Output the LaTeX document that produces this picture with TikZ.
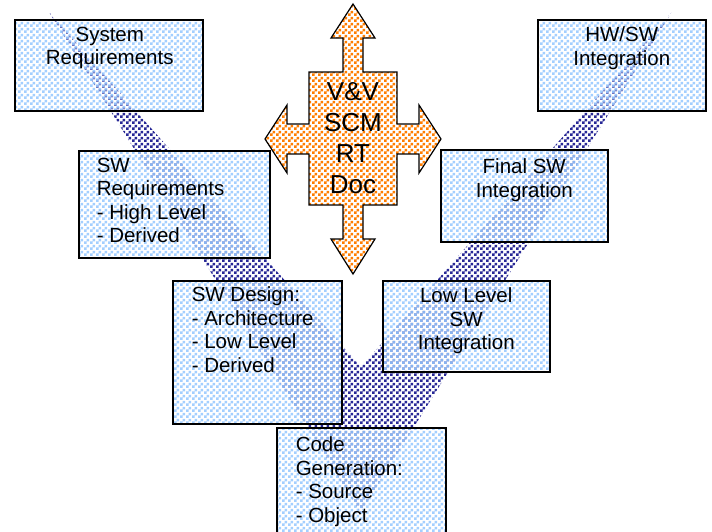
\documentclass[tikz,border=0pt]{standalone}
\usepackage{fontspec}
\setmainfont{Liberation Sans}
\usetikzlibrary{patterns}

% small square checks, 3pt each
\pgfdeclarepatternformonly{checks}{\pgfpointorigin}{\pgfqpoint{6pt}{6pt}}{\pgfqpoint{6pt}{6pt}}{%
  \pgfpathrectangle{\pgfpointorigin}{\pgfqpoint{3pt}{3pt}}%
  \pgfpathrectangle{\pgfqpoint{3pt}{3pt}}{\pgfqpoint{3pt}{3pt}}%
  \pgfusepath{fill}}

\definecolor{bandblue}{RGB}{40,40,150}
\definecolor{boxblue}{RGB}{140,195,255}
\definecolor{crossorange}{RGB}{255,125,0}

\begin{document}
\begin{tikzpicture}[x=1pt, y=-1pt, line width=1.5pt,
  phase/.style args={#1 by #2}{draw, anchor=north west, inner sep=0pt,
    minimum width=#1pt, minimum height=#2pt,
    preaction={fill=white, fill opacity=0.35},
    pattern=checks, pattern color=boxblue, fill opacity=0.8},
  words/.style={inner sep=0pt, font=\fontsize{20.5}{23.5}\selectfont}]
  \path[use as bounding box, fill=white] (0,0) rectangle (712,531);

  % the V band behind the boxes
  \fill[white] (49,12) -- (360.5,513) -- (672,12) -- (361,367) -- cycle;
  \path[pattern=checks, pattern color=bandblue]
    (49,12) -- (360.5,513) -- (672,12) -- (361,367) -- cycle;

  % left leg
  \node[phase=188 by 91]  (sysreq)   at (14,19)   {};
  \node[phase=191 by 107] (swreq)    at (78,150)  {};
  \node[phase=169 by 143] (swdesign) at (172,280) {};
  % bottom
  \node[phase=169 by 113] (codegen)  at (276,427) {};
  % right leg
  \node[phase=167 by 91]  (lowint)   at (382,280) {};
  \node[phase=167 by 92]  (finalint) at (440,149) {};
  \node[phase=168 by 91]  (hwsw)     at (537,19)  {};

  \node[words, align=center, anchor=north] (sysreq-t) at ([shift={(1,7)}]sysreq.north) {System\\Requirements};
  \node[words, align=left, anchor=north west] (swreq-t) at ([shift={(18,7)}]swreq.north west) {SW\\Requirements\\- High Level\\- Derived};
  \node[words, align=left, anchor=north west] (swdesign-t) at ([shift={(19,6)}]swdesign.north west) {SW Design:\\- Architecture\\- Low Level\\- Derived};
  \node[words, align=left, anchor=north west] (codegen-t) at ([shift={(19,9)}]codegen.north west) {Code\\Generation:\\- Source\\- Object};
  \node[words, align=center, anchor=north] (lowint-t) at ([shift={(0,7)}]lowint.north) {Low Level\\SW\\Integration};
  \node[words, align=center, anchor=north] (finalint-t) at ([shift={(0,9)}]finalint.north) {Final SW\\Integration};
  \node[words, align=center, anchor=north] (hwsw-t) at ([shift={(0,7)}]hwsw.north) {HW/SW\\Integration};

  % four way arrow in the middle
  \def\crossarrow{(353,4) -- (375,38) -- (363,38) -- (363,72) -- (397,72) -- (397,124)
    -- (419,124) -- (419,105) -- (441,139) -- (419,173) -- (419,154) -- (397,154)
    -- (397,205) -- (363,205) -- (363,239) -- (375,239) -- (353,274) -- (331,239)
    -- (343,239) -- (343,205) -- (309,205) -- (309,154) -- (287,154) -- (287,173)
    -- (265,139) -- (287,105) -- (287,124) -- (309,124) -- (309,72) -- (343,72)
    -- (343,38) -- (331,38) -- cycle}
  \fill[white] \crossarrow;
  \draw[line width=1.2pt, pattern=checks, pattern color=crossorange] \crossarrow;
  \node[words, font=\fontsize{26}{30.8}\selectfont, align=center] (tasks) at (353,138) {V\&V\\SCM\\RT\\Doc};
\end{tikzpicture}
\end{document}
